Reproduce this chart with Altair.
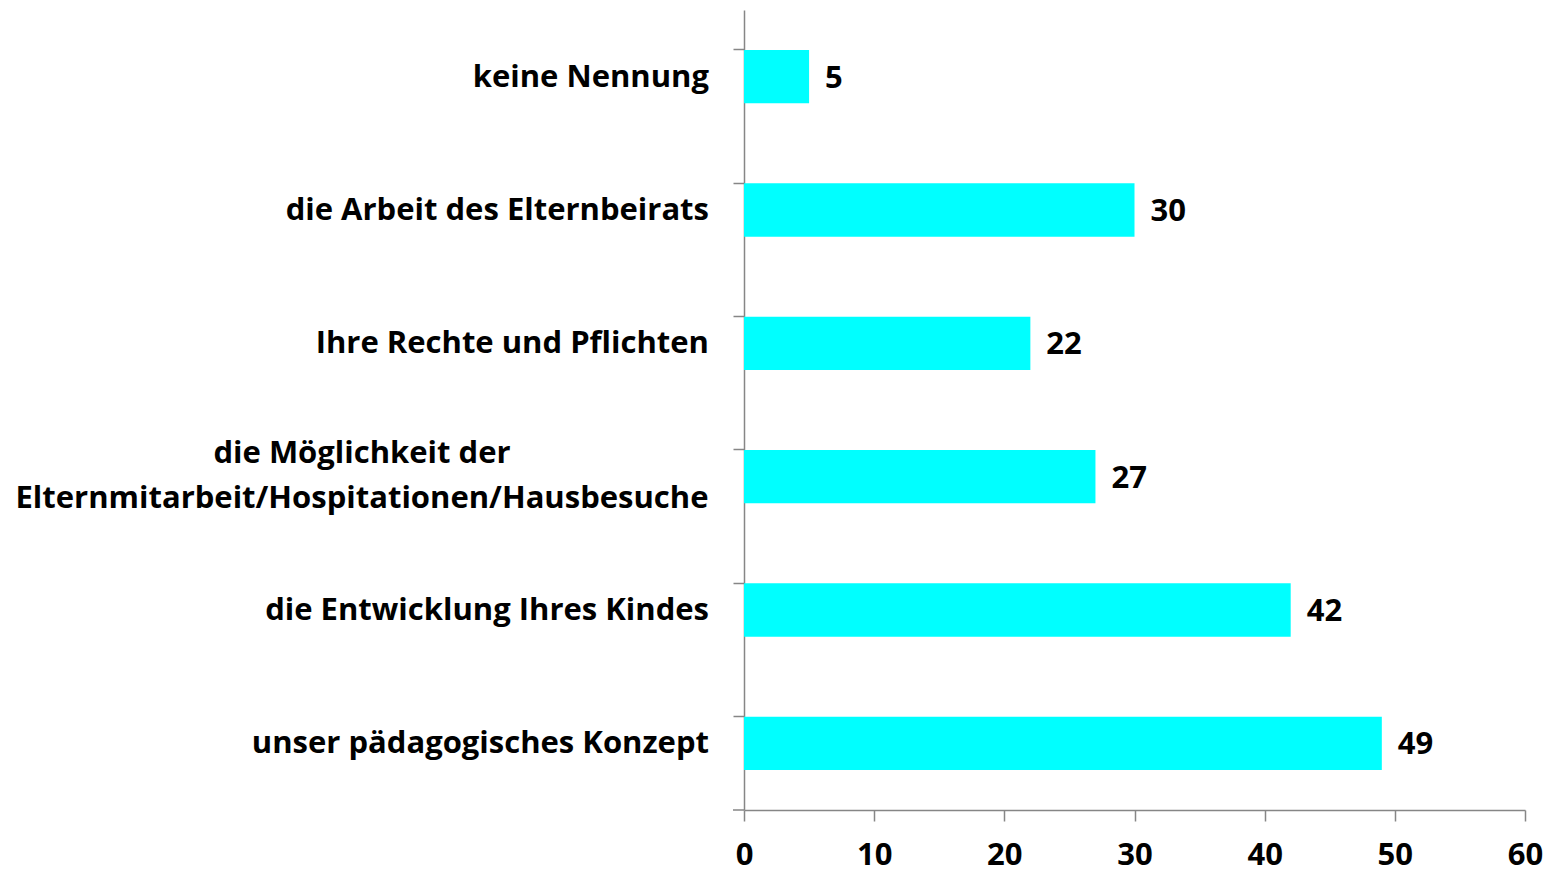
import altair as alt
import pandas as pd

categories = [
    "keine Nennung",
    "die Arbeit des Elternbeirats",
    "Ihre Rechte und Pflichten",
    "die Möglichkeit der\nElternmitarbeit/Hospitationen/Hausbesuche",
    "die Entwicklung Ihres Kindes",
    "unser pädagogisches Konzept",
]
values = [5, 30, 22, 27, 42, 49]
x_ticks = [0, 10, 20, 30, 40, 50, 60]

df = pd.DataFrame({"cat": categories, "val": values,
                   "multi": ["\n" in c for c in categories]})

FONT = "Open Sans"
FS = 31
AXC = "#868686"

y_enc = alt.Y(
    "cat:N", sort=categories,
    scale=alt.Scale(paddingInner=0.6, paddingOuter=0.3),
    axis=alt.Axis(title=None, labels=False, domainColor=AXC, tickColor=AXC,
                  domainWidth=1.5, tickWidth=1.5, tickSize=11, bandPosition=0),
)
x_enc = alt.X(
    "val:Q", scale=alt.Scale(domain=[0, 60], nice=False),
    axis=alt.Axis(title=None, values=x_ticks, grid=False, domainColor=AXC,
                  tickColor=AXC, domainWidth=1.5, tickWidth=1.5, tickSize=11,
                  labelFont=FONT, labelFontSize=31, labelFontWeight="bold",
                  labelColor="#000000", labelPadding=19, labelFlush=False),
)

base = alt.Chart(df)

bars = base.mark_bar(color="#00FFFF").encode(x=x_enc, y=y_enc)

vals = base.mark_text(align="left", baseline="middle", dx=16, dy=2, font=FONT,
                      fontSize=FS, fontWeight="bold", color="#000000").encode(
    x=x_enc, y=y_enc, text="val:Q")

cat_single = base.transform_filter("!datum.multi").mark_text(
    align="right", baseline="middle", dy=1, font=FONT, fontSize=FS,
    fontWeight="bold", color="#000000", lineBreak="\n").encode(
    x=alt.value(-35), y=y_enc, text="cat:N")

cat_multi = base.transform_filter("datum.multi").mark_text(
    align="center", baseline="middle", dy=-23, font=FONT, fontSize=FS,
    fontWeight="bold", color="#000000", lineBreak="\n", lineHeight=45).encode(
    x=alt.value(-382), y=y_enc, text="cat:N")

bottom_tick = alt.Chart(pd.DataFrame({"k": [0]})).mark_rule(
    color=AXC, strokeWidth=1.5).encode(
    x=alt.value(-11), x2=alt.value(0), y=alt.value(800))

chart = alt.layer(bars, vals, cat_single, cat_multi, bottom_tick).properties(
    width=781, height=800,
    autosize=alt.AutoSizeParams(type="none"),
    padding={"left": 736, "top": 2, "right": 22, "bottom": 62},
).configure_view(stroke=None)

chart.save("out.html", embed_options={"renderer": "svg", "actions": False})
